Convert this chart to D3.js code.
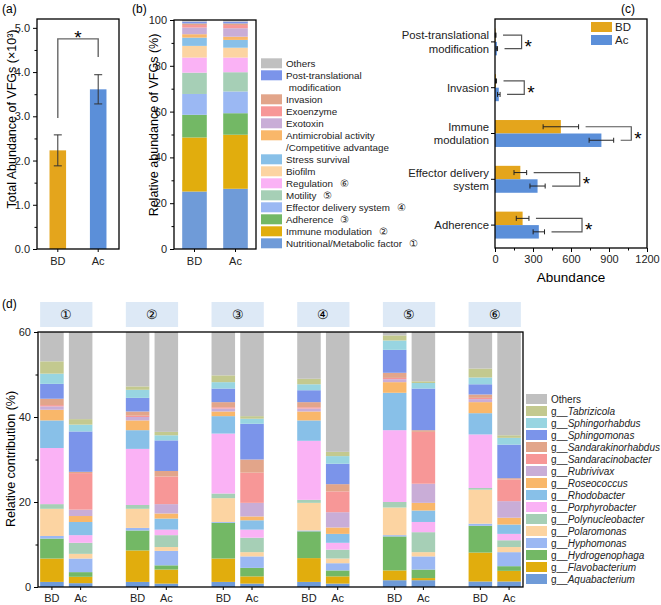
<!DOCTYPE html>
<html>
<head>
<meta charset="utf-8">
<script src="https://cdn.jsdelivr.net/npm/d3@7"></script>
<style>
  body { margin: 0; background: #fff; }
  svg { font-family: "Liberation Sans", Arial, sans-serif; }
</style>
</head>
<body>
<div id="chart"></div>
<script>
var svgWidth = 661;
var svgHeight = 605;

// ---- data ----
var groups = ["BD", "Ac"];

// (a) total abundance (x10^3)
var totalMean = [2.23, 3.61];
var totalErr = [0.35, 0.33];
var sigA = [2.96, 4.75, 4.34]; // bracket: BD end, top, Ac end

// (b) relative abundance of VFG categories (bottom -> top)
var vfgCategories = ["Nutritional/Metabolic factor", "Immune modulation", "Adherence",
  "Effector delivery system", "Motility", "Regulation", "Biofilm", "Stress survival",
  "Antimicrobial activity/Competitive advantage", "Exotoxin", "Exoenzyme", "Invasion",
  "Post-translational modification", "Others"];
var vfgBD = [25.1, 23.6, 9.9, 9.1, 9.3, 6.6, 5.1, 3.6, 1.5, 2.9, 1.1, 0.7, 0.8, 0.7];
var vfgAc = [26.3, 23.6, 9.4, 9.5, 8.4, 6.4, 4.3, 3.4, 1.4, 3.7, 1.4, 0.7, 0.8, 0.7];
var vfgColors = ["#6f9bd8", "#e1ad0d", "#73b865", "#9bb8f3", "#a6cfb6", "#fab2f5", "#fcd4a2",
  "#88c0e8", "#f9b76a", "#c9add7", "#f79797", "#e2a58a", "#7b94ea", "#c0c0c0"];
var vfgLegendLines = {
  "Antimicrobial activity/Competitive advantage": ["Antimicrobial activity", "/Competitive advantage"],
  "Post-translational modification": ["Post-translational", " modification"]
};
var vfgMarks = {
  "Nutritional/Metabolic factor": "①", "Immune modulation": "②", "Adherence": "③",
  "Effector delivery system": "④", "Motility": "⑤", "Regulation": "⑥"
};

// (c) abundance of selected categories
var cCategories = ["Post-translational modification", "Invasion", "Immune modulation",
  "Effector delivery system", "Adherence"];
var cLabelLines = [["Post-translational", "modification"], ["Invasion"], ["Immune", "modulation"],
  ["Effector delivery", "system"], ["Adherence"]];
var cBD = [5, 8, 520, 200, 218];
var cBDErr = [3, 4, 140, 50, 50];
var cAc = [15, 30, 840, 336, 346];
var cAcErr = [5, 10, 97, 60, 45];
var cBracket = [210, 231, 1076, 669, 687];

// (d) genus contribution for each category ①-⑥ (bottom -> top)
var groupNums = ["①", "②", "③", "④", "⑤", "⑥"];
var genera = ["Aquabacterium", "Flavobacterium", "Hydrogenophaga", "Hyphomonas", "Polaromonas",
  "Polynucleobacter", "Porphyrobacter", "Rhodobacter", "Roseococcus", "Rubrivivax",
  "Sandaracinobacter", "Sandarakinorhabdus", "Sphingomonas", "Sphingorhabdus", "Tabrizicola", "Others"];
var genusColors = ["#6f9bd8", "#e1ad0d", "#73b865", "#9bb8f3", "#fcd4a2", "#a6cfb6", "#fab2f5",
  "#88c0e8", "#f9b76a", "#c9add7", "#f79797", "#e2a58a", "#7b94ea", "#98d5e1", "#c3c98f", "#c0c0c0"];
var contribBD = [
  [1.2, 5.5, 4.7, 0.6, 6.4, 1.1, 13.2, 6.5, 2.5, 0.8, 0.3, 1.5, 3.5, 2.4, 2.9, 6.9],
  [1.2, 7.4, 4.7, 0.6, 4.5, 0.9, 13.2, 4.4, 2.3, 0.8, 0.3, 1.0, 3.2, 1.9, 0.8, 12.8],
  [1.2, 5.5, 8.4, 0.2, 5.6, 1.1, 14.1, 4.1, 1.1, 0.7, 0.3, 1.2, 3.2, 1.5, 1.6, 10.2],
  [1.2, 5.6, 6.3, 0.2, 6.5, 0.7, 13.9, 4.8, 2.1, 0.7, 0.3, 1.2, 2.8, 1.4, 1.3, 11.0],
  [1.6, 2.3, 8.0, 0.3, 6.5, 1.3, 16.9, 8.8, 2.5, 0.7, 0.3, 1.2, 5.4, 2.2, 1.2, 0.8],
  [1.3, 6.8, 6.3, 0.5, 8.0, 0.4, 12.6, 5.0, 2.6, 0.7, 0.3, 0.8, 2.4, 1.6, 2.1, 8.6]
];
var contribAc = [
  [0.9, 1.5, 1.1, 3.2, 1.1, 2.6, 1.8, 3.1, 1.4, 1.5, 8.6, 0.3, 9.5, 1.6, 1.3, 20.5],
  [0.8, 3.3, 1.0, 3.4, 0.9, 2.8, 1.3, 2.6, 1.2, 2.2, 6.5, 1.3, 7.2, 1.2, 0.8, 23.5],
  [0.8, 1.7, 2.0, 2.7, 1.0, 3.4, 1.9, 2.2, 0.9, 3.2, 7.1, 3.1, 8.4, 1.2, 0.6, 19.8],
  [0.8, 1.7, 1.4, 1.7, 1.1, 2.1, 1.6, 2.1, 1.5, 3.6, 4.9, 1.7, 4.8, 1.8, 1.0, 28.2],
  [1.6, 0.5, 2.0, 3.1, 1.0, 4.7, 2.4, 2.7, 1.8, 4.5, 12.2, 0.4, 9.8, 1.3, 0.4, 11.6],
  [1.3, 2.5, 1.1, 3.3, 1.2, 1.6, 1.5, 2.2, 1.6, 3.9, 5.1, 0.3, 7.9, 1.6, 0.6, 24.3]
];

var colBD = "#e4a51c";
var colAc = "#5b8fd9";

var svg = d3.select("#chart").append("svg")
  .attr("width", svgWidth)
  .attr("height", svgHeight);

// helpers
function frame(x0, x1, y0, y1) {
  svg.append("rect")
    .attr("x", x0).attr("y", y0)
    .attr("width", x1 - x0).attr("height", y1 - y0)
    .attr("fill", "none").attr("stroke", "#000").attr("stroke-width", 1.3);
}
function styleAxis(g) {
  g.select(".domain").remove();
  g.selectAll(".tick line").attr("stroke", "#000");
  g.selectAll(".tick text").attr("font-size", 11).attr("fill", "#222")
    .attr("font-family", "Liberation Sans, Arial, sans-serif");
}
function yAxisWithMinor(scale, x, major, minor) {
  svg.append("g").attr("transform", `translate(${x},0)`)
    .call(d3.axisLeft(scale).tickValues(minor).tickSize(2.5).tickFormat(""))
    .call(styleAxis);
  svg.append("g").attr("transform", `translate(${x},0)`)
    .call(d3.axisLeft(scale).tickValues(major).tickSize(4).tickPadding(3))
    .call(styleAxis);
}
function panelLabel(x, y, t) {
  svg.append("text").attr("x", x).attr("y", y).attr("font-size", 12).text(t);
}
function yTitle(x, y, t, fs) {
  return svg.append("text")
    .attr("transform", `translate(${x},${y}) rotate(-90)`)
    .attr("text-anchor", "middle").attr("font-size", fs || 13).text(t);
}

// ================= (a) =================
var xA = d3.scaleBand().domain(groups).range([37, 119]).paddingInner(0.59).paddingOuter(0.31);
var yA = d3.scaleLinear().domain([0, 5.2]).range([249, 19]);

svg.append("g").selectAll("rect")
  .data(groups).enter().append("rect")
  .attr("x", d => xA(d))
  .attr("y", (d, i) => yA(totalMean[i]))
  .attr("width", xA.bandwidth())
  .attr("height", (d, i) => yA(0) - yA(totalMean[i]))
  .attr("fill", (d, i) => i === 0 ? colBD : colAc);

var errA = svg.append("g").attr("stroke", "#333").attr("stroke-width", 1);
groups.forEach((g, i) => {
  var cx = xA(g) + xA.bandwidth() / 2;
  var lo = yA(totalMean[i] - totalErr[i]), hi = yA(totalMean[i] + totalErr[i]);
  errA.append("line").attr("x1", cx).attr("x2", cx).attr("y1", lo).attr("y2", hi);
  errA.append("line").attr("x1", cx - 4).attr("x2", cx + 4).attr("y1", lo).attr("y2", lo);
  errA.append("line").attr("x1", cx - 4).attr("x2", cx + 4).attr("y1", hi).attr("y2", hi);
});

var cxBD = xA("BD") + xA.bandwidth() / 2, cxAc = xA("Ac") + xA.bandwidth() / 2;
svg.append("path")
  .attr("d", `M${cxBD},${yA(sigA[0])}V${yA(sigA[1])}H${cxAc}V${yA(sigA[2])}`)
  .attr("fill", "none").attr("stroke", "#666").attr("stroke-width", 1.4);
svg.append("text").attr("x", (cxBD + cxAc) / 2).attr("y", 44)
  .attr("text-anchor", "middle").attr("font-size", 19).text("*");

yAxisWithMinor(yA, 37, d3.range(0, 6), d3.range(0.5, 5.2, 1));
svg.append("g").attr("transform", "translate(0,249)")
  .call(d3.axisBottom(xA).tickSize(3).tickPadding(5))
  .call(styleAxis);
frame(37, 119, 19, 249);
yTitle(16, 119, "Total Abundance of VFGs (×10³)", 12.5);
panelLabel(2, 13, "(a)");

// ================= (b) =================
var xB = d3.scaleBand().domain(groups).range([174, 256]).paddingInner(0.4).paddingOuter(0.2);
var yB = d3.scaleLinear().domain([0, 100]).range([249, 20]);

var tableB = groups.map((g, i) => {
  var row = { group: g };
  vfgCategories.forEach((c, j) => { row[c] = (i === 0 ? vfgBD : vfgAc)[j]; });
  return row;
});
var stackB = d3.stack().keys(vfgCategories)(tableB);

svg.append("g").selectAll("g")
  .data(stackB).enter().append("g")
  .attr("fill", (d, i) => vfgColors[i])
  .selectAll("rect")
  .data(d => d).enter().append("rect")
  .attr("x", d => xB(d.data.group))
  .attr("y", d => yB(d[1]))
  .attr("width", xB.bandwidth())
  .attr("height", d => yB(d[0]) - yB(d[1]));

yAxisWithMinor(yB, 174, d3.range(0, 101, 20), d3.range(10, 100, 20));
svg.append("g").attr("transform", "translate(0,249)")
  .call(d3.axisBottom(xB).tickSize(3).tickPadding(5))
  .call(styleAxis);
frame(174, 256, 20, 249);
yTitle(158, 125, "Relative abundance of VFGs (%)", 12.5);
panelLabel(132, 13, "(b)");

// legend (b)
var legB = svg.append("g").attr("font-size", 9.8).attr("fill", "#222");
var rowB = 0;
vfgCategories.slice().reverse().forEach(c => {
  var i = vfgCategories.indexOf(c);
  var cy = 63.3 + rowB * 12;
  legB.append("rect").attr("x", 261).attr("y", cy - 5).attr("width", 21).attr("height", 10)
    .attr("fill", vfgColors[i]);
  var lines = vfgLegendLines[c] || [c];
  lines.forEach((ln, k) => {
    var t = legB.append("text").attr("x", 286).attr("y", cy + k * 12 + 3.5)
      .attr("xml:space", "preserve").text(ln);
    if (vfgMarks[c]) t.append("tspan").attr("dx", 7).attr("font-size", 10).text(vfgMarks[c]);
  });
  rowB += lines.length;
});

// ================= (c) =================
var xC = d3.scaleLinear().domain([0, 1200]).range([495, 647]);
var yC = d3.scaleBand().domain(cCategories).range([19, 248]);
var yCin = d3.scaleBand().domain(groups).range([0, yC.bandwidth()]).paddingOuter(0.7);

cCategories.forEach((c, i) => {
  var vals = [[cBD[i], cBDErr[i], colBD], [cAc[i], cAcErr[i], colAc]];
  vals.forEach((v, k) => {
    var y0 = yC(c) + yCin(groups[k]);
    var cy = y0 + yCin.bandwidth() / 2;
    svg.append("rect").attr("x", xC(0)).attr("y", y0)
      .attr("width", xC(v[0]) - xC(0)).attr("height", yCin.bandwidth())
      .attr("fill", v[2]);
    var lo = xC(v[0] - v[1]), hi = xC(v[0] + v[1]);
    var e = svg.append("g").attr("stroke", "#222").attr("stroke-width", 1);
    e.append("line").attr("x1", lo).attr("x2", hi).attr("y1", cy).attr("y2", cy);
    e.append("line").attr("x1", lo).attr("x2", lo).attr("y1", cy - 2.5).attr("y2", cy + 2.5);
    e.append("line").attr("x1", hi).attr("x2", hi).attr("y1", cy - 2.5).attr("y2", cy + 2.5);
  });
  var yBDc = yC(c) + yCin("BD") + yCin.bandwidth() / 2;
  var yAcc = yC(c) + yCin("Ac") + yCin.bandwidth() / 2;
  var xs1 = xC(cBD[i] + cBDErr[i]) + 7, xs2 = xC(cAc[i] + cAcErr[i]) + 7, xr = xC(cBracket[i]);
  svg.append("path")
    .attr("d", `M${xs1},${yBDc}H${xr}V${yAcc}H${xs2}`)
    .attr("fill", "none").attr("stroke", "#555").attr("stroke-width", 1.2);
  svg.append("text").attr("x", xr + 3).attr("y", (yBDc + yAcc) / 2 + 11)
    .attr("font-size", 19).text("*");
});

svg.append("g").attr("transform", "translate(0,248)")
  .call(d3.axisBottom(xC).tickValues(d3.range(150, 1200, 300)).tickSize(2.5).tickFormat(""))
  .call(styleAxis);
svg.append("g").attr("transform", "translate(0,248)")
  .call(d3.axisBottom(xC).tickValues(d3.range(0, 1201, 300)).tickSize(4).tickPadding(3)
    .tickFormat(d3.format("d")))
  .call(styleAxis);
svg.append("g").attr("transform", "translate(495,0)")
  .call(d3.axisLeft(yC).tickSize(4).tickFormat(""))
  .call(styleAxis);
cCategories.forEach((c, i) => {
  var cy = yC(c) + yC.bandwidth() / 2;
  var lines = cLabelLines[i];
  lines.forEach((ln, k) => {
    svg.append("text").attr("x", 489).attr("text-anchor", "end")
      .attr("y", cy + (k - (lines.length - 1) / 2) * 13.5 + 4)
      .attr("font-size", 11.3).attr("fill", "#222").text(ln);
  });
});
frame(495, 647, 19, 248);
svg.append("text").attr("x", 571).attr("y", 282).attr("text-anchor", "middle")
  .attr("font-size", 13.5).text("Abundance");

// legend (c)
groups.forEach((g, i) => {
  svg.append("rect").attr("x", 591).attr("y", 22 + i * 13).attr("width", 21).attr("height", 10)
    .attr("fill", i === 0 ? colBD : colAc);
  svg.append("text").attr("x", 615).attr("y", 31 + i * 13).attr("font-size", 11.5)
    .attr("fill", "#222").text(g);
});
panelLabel(621, 13, "(c)");

// ================= (d) =================
var xD = d3.scaleBand().domain(groupNums).range([38, 523]).paddingInner(0.39).paddingOuter(0.025);
var xDin = d3.scaleBand().domain(groups).range([0, xD.bandwidth()]).paddingInner(0.18);
var yD = d3.scaleLinear().domain([0, 60]).range([587, 332]);

var tableD = [];
groupNums.forEach((n, gi) => {
  groups.forEach((g, si) => {
    var row = { num: n, group: g };
    genera.forEach((gen, j) => { row[gen] = (si === 0 ? contribBD : contribAc)[gi][j]; });
    tableD.push(row);
  });
});
var stackD = d3.stack().keys(genera)(tableD);

svg.append("g").selectAll("g")
  .data(stackD).enter().append("g")
  .attr("fill", (d, i) => genusColors[i])
  .selectAll("rect")
  .data(d => d).enter().append("rect")
  .attr("x", d => xD(d.data.num) + xDin(d.data.group))
  .attr("y", d => yD(d[1]))
  .attr("width", xDin.bandwidth())
  .attr("height", d => yD(d[0]) - yD(d[1]));

// strip headers
groupNums.forEach(n => {
  svg.append("rect").attr("x", xD(n)).attr("y", 302).attr("width", xD.bandwidth()).attr("height", 25)
    .attr("fill", "#dde9f6");
  svg.append("text").attr("x", xD(n) + xD.bandwidth() / 2).attr("y", 319)
    .attr("text-anchor", "middle").attr("font-size", 12.5).text(n);
});

yAxisWithMinor(yD, 38, [0, 20, 40, 60], [10, 30, 50]);
var xTicksD = svg.append("g");
tableD.forEach(r => {
  var cx = xD(r.num) + xDin(r.group) + xDin.bandwidth() / 2;
  xTicksD.append("line").attr("x1", cx).attr("x2", cx).attr("y1", 587).attr("y2", 590)
    .attr("stroke", "#000");
  xTicksD.append("text").attr("x", cx).attr("y", 602).attr("text-anchor", "middle")
    .attr("font-size", 11).attr("fill", "#222").text(r.group);
});
frame(38, 523, 332, 587);
yTitle(15, 459, "Relative contribution (%)", 12.5);
panelLabel(2, 308, "(d)");

// legend (d)
var legD = svg.append("g").attr("font-size", 10).attr("fill", "#222");
genera.slice().reverse().forEach((gen, r) => {
  var i = genera.indexOf(gen);
  var cy = 399 + r * 12;
  legD.append("rect").attr("x", 526).attr("y", cy - 5).attr("width", 21).attr("height", 10)
    .attr("fill", genusColors[i]);
  var t = legD.append("text").attr("x", 551).attr("y", cy + 3.5);
  if (gen === "Others") {
    t.text(gen);
  } else {
    t.append("tspan").text("g__");
    t.append("tspan").attr("font-style", "italic").text(gen);
  }
});
</script>
</body>
</html>
